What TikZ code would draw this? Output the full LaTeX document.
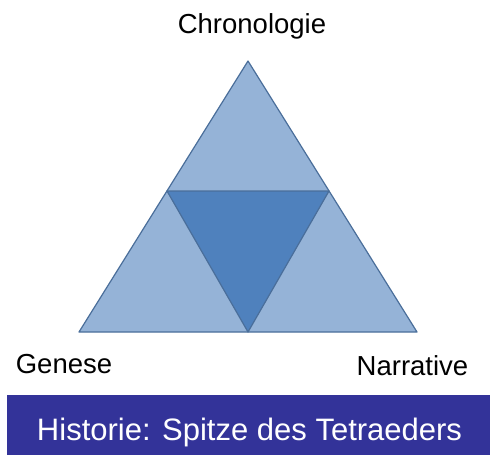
\documentclass[tikz,border=0pt]{standalone}
\usepackage{fontspec}
\setmainfont{Liberation Sans}
\definecolor{lightblue}{HTML}{95B3D7}
\definecolor{darkblue}{HTML}{4F81BD}
\definecolor{edgeblue}{HTML}{4A6E9A}
\definecolor{banner}{HTML}{333399}
\begin{document}
\begin{tikzpicture}[x=1pt,y=-1pt,
  tri/.style={draw=edgeblue,line width=1.2pt,line join=round},
  lbl/.style={inner sep=0pt,anchor=base,font=\fontsize{27.5}{30}\selectfont},
  bannertext/.style={inner sep=0pt,anchor=base,text=white,font=\fontsize{31}{34}\selectfont}]
\useasboundingbox (0,0) rectangle (490,455);
% coordinates
\coordinate (A) at (248,61);
\coordinate (BL) at (79,332);
\coordinate (BR) at (417,332);
\coordinate (ML) at (167,191);
\coordinate (MR) at (329,191);
\coordinate (MB) at (248,332);
% outer triangle
\draw[tri,fill=lightblue] (A) -- (BL) -- (BR) -- cycle;
% inner triangle
\draw[tri,fill=darkblue] (ML) -- (MR) -- (MB) -- cycle;
% labels
\node[lbl] (chrono) at (252,33) {Chronologie};
\node[lbl] (genese) at (64,373) {Genese};
\node[lbl] (narr) at (412.5,375) {Narrative};
% banner
\fill[banner] (7,395) rectangle (490,455);
\node[bannertext] (hist) at (249.5,440) {Historie: Spitze des Tetraeders};
\end{tikzpicture}
\end{document}
